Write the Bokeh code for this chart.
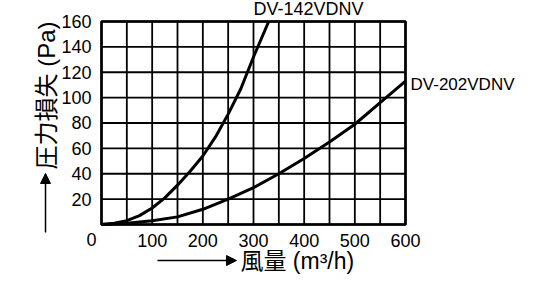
import math
from bokeh.plotting import figure
from bokeh.models import Range1d, FixedTicker, Label, Arrow, NormalHead
from bokeh.embed import file_html
from bokeh.resources import INLINE

# ---- data ----
flow_142 = [0, 25, 50, 75, 100, 125, 150, 175, 200, 225, 250, 275, 300, 315, 330]
loss_142 = [0, 1, 3, 7, 13, 21, 31, 42, 54, 69, 87, 107, 132, 146, 160]

flow_202 = [0, 50, 100, 150, 200, 250, 300, 350, 400, 450, 500, 550, 600]
loss_202 = [0, 1, 3, 6, 12, 20, 29, 40, 52, 65, 79, 96, 113]

x_tick_values = [100, 200, 300, 400, 500, 600]
y_tick_values = [20, 40, 60, 80, 100, 120, 140, 160]
x_grid_values = [0, 50, 100, 150, 200, 250, 300, 350, 400, 450, 500, 550, 600]
y_grid_values = [0, 20, 40, 60, 80, 100, 120, 140, 160]

name_142 = "DV-142VDNV"
name_202 = "DV-202VDNV"
x_title = "風量 (m³/h)"
y_title = "圧力損失 (Pa)"

LATIN = "Liberation Sans"
MIXED = "Liberation Sans, 'Noto Sans CJK JP'"

# the frame spans the whole canvas; the chart area (0..600, 0..160) sits inside it
p = figure(width=520, height=275, output_backend="svg", toolbar_location=None,
           x_range=Range1d(-199.34, 826.97), y_range=Range1d(-40.2, 176.55),
           min_border=0)
p.background_fill_color = "white"
p.border_fill_color = "white"
p.outline_line_color = None
p.grid.visible = False

for ax in (p.xaxis, p.yaxis):
    ax.fixed_location = 0
    ax.axis_line_color = None
    ax.major_tick_line_color = None
    ax.minor_tick_line_color = None
    ax.major_label_text_font = LATIN
    ax.major_label_text_font_size = "18px"
    ax.major_label_text_color = "black"
p.xaxis.ticker = FixedTicker(ticks=x_tick_values)
p.yaxis.ticker = FixedTicker(ticks=y_tick_values)
p.xaxis.major_label_standoff = 4
p.yaxis.major_label_standoff = 4

# grid lines
nx, ny = len(x_grid_values), len(y_grid_values)
p.segment(x0=x_grid_values, y0=[min(y_grid_values)] * nx,
          x1=x_grid_values, y1=[max(y_grid_values)] * nx,
          line_color="black", line_width=1.8)
p.segment(x0=[min(x_grid_values)] * ny, y0=y_grid_values,
          x1=[max(x_grid_values)] * ny, y1=y_grid_values,
          line_color="black", line_width=1.8)
p.quad(left=[min(x_grid_values)], right=[max(x_grid_values)],
       bottom=[min(y_grid_values)], top=[max(y_grid_values)],
       fill_color=None, line_color="black", line_width=2.6)

p.line(flow_142, loss_142, line_color="black", line_width=3, line_join="round")
p.line(flow_202, loss_202, line_color="black", line_width=3, line_join="round")

def lab(x, y, text, font, size, align="left", angle=0.0):
    p.add_layout(Label(x=x, y=y, text=text, text_font=font, text_font_size=size,
                       text_align=align, text_baseline="middle", text_color="black",
                       angle=angle))

lab(300, 169.5, name_142, LATIN, "18px")
lab(610, 110.3, name_202, LATIN, "17px")
lab(-19.7, -11.8, "0", LATIN, "18px", align="center")
lab(274.3, -28.4, x_title, MIXED, "23px")
lab(-108.5, 101.7, y_title, MIXED, "24px", align="center", angle=math.pi / 2)

p.add_layout(Arrow(end=NormalHead(size=10, fill_color="black", line_color="black"),
                   x_start=110.5, y_start=-28.4, x_end=266.4, y_end=-28.4,
                   line_color="black", line_width=1.5))
p.add_layout(Arrow(end=NormalHead(size=10, fill_color="black", line_color="black"),
                   x_start=-110.5, y_start=-6.3, x_end=-110.5, y_end=40.2,
                   line_color="black", line_width=1.5))

open("out.html", "w").write(file_html(p, INLINE))
